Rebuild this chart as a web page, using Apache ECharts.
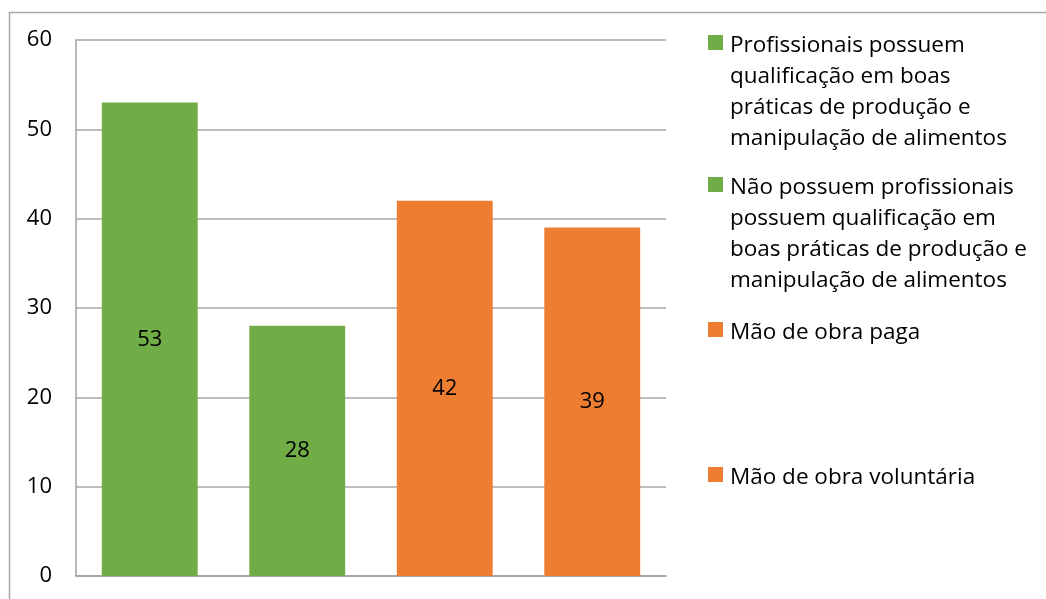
<!DOCTYPE html>
<html>
<head>
<meta charset="utf-8">
<script src="https://cdn.jsdelivr.net/npm/echarts@6/dist/echarts.min.js"></script>
<style>
html,body{margin:0;padding:0;background:#fff;}
#c{width:1046px;height:599px;}
</style>
</head>
<body>
<div id="c"></div>
<script>
var categories = ['a', 'b', 'c', 'd'];
var seriesNames = [
  'Profissionais possuem\nqualificação em boas\npráticas de produção e\nmanipulação de alimentos',
  'Não possuem profissionais\npossuem qualificação em\nboas práticas de produção e\nmanipulação de alimentos',
  'Mão de obra paga',
  'Mão de obra voluntária'
];
var values = [53, 28, 42, 39];
var colors = ['#70AD47', '#70AD47', '#ED7D31', '#ED7D31'];
var yTicks = [0, 10, 20, 30, 40, 50, 60];

var FONT = '"Open Sans"';
var chart = echarts.init(document.getElementById('c'));

var series = seriesNames.map(function (name, i) {
  var d = categories.map(function (c, j) { return j === i ? values[i] : null; });
  return {
    name: name,
    type: 'bar',
    stack: 'all',
    barWidth: '65%',
    data: d,
    itemStyle: { color: colors[i] },
    label: {
      show: true,
      position: 'inside',
      color: '#000',
      fontFamily: FONT,
      fontSize: 22
    }
  };
});

var legendTops = [34, 176, 321, 466];
var legendGraphics = [];
seriesNames.forEach(function (name, i) {
  legendGraphics.push({
    type: 'rect',
    left: 708, top: legendTops[i] + 1,
    shape: { width: 15, height: 15 },
    style: { fill: colors[i] }
  });
  legendGraphics.push({
    type: 'text',
    left: 730, top: legendTops[i] - 4,
    style: {
      text: name,
      font: '22.5px ' + FONT,
      fill: '#000',
      lineHeight: 31
    }
  });
});
legendGraphics.push({
  type: 'rect',
  left: 7, top: 10,
  shape: { width: 1100, height: 700 },
  style: { fill: 'none', stroke: '#A6A6A6', lineWidth: 1.5 },
  silent: true,
  z: -1
});

chart.setOption({
  animation: false,
  grid: { left: 76, top: 40, width: 590, height: 536, containLabel: false },
  xAxis: {
    type: 'category',
    data: categories,
    axisLine: { show: true, lineStyle: { color: '#A0A0A0', width: 1.5 } },
    axisTick: { show: false },
    axisLabel: { show: false }
  },
  yAxis: {
    type: 'value',
    min: yTicks[0],
    max: yTicks[yTicks.length - 1],
    interval: 10,
    axisLine: { show: true, lineStyle: { color: '#A0A0A0', width: 1.5 } },
    axisTick: { show: false },
    axisLabel: { color: '#000', fontFamily: FONT, fontSize: 22, margin: 24 },
    splitLine: { lineStyle: { color: '#A6A6A6', width: 1.5 } }
  },
  series: series,
  graphic: legendGraphics
});
</script>
</body>
</html>
